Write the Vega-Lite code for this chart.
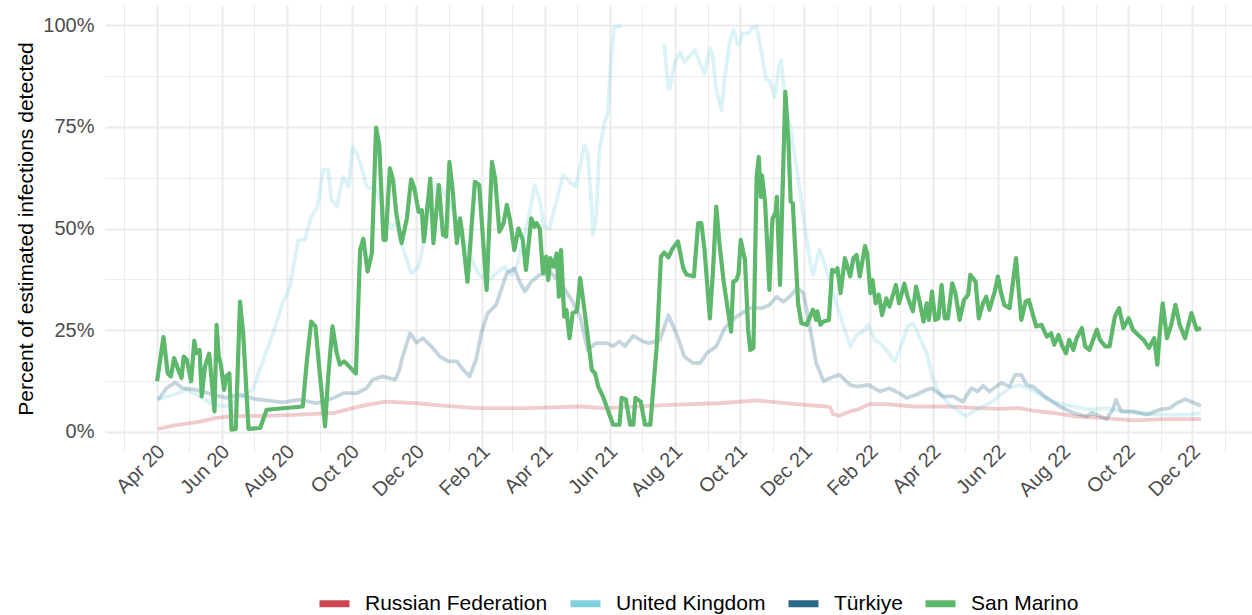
{
"$schema": "https://vega.github.io/schema/vega-lite/v6.json",
"width": 1147, "height": 447,
"autosize": {"type": "none"},
"padding": {"left": 105, "top": 5, "right": 0, "bottom": 163},
"background": "white",
"config": {"view": {"stroke": null}, "font": "Liberation Sans"},
"data": {"values": [
{"country":"Russian Federation","date":"2020-04-02","value":0.7},{"country":"Russian Federation","date":"2020-04-16","value":1.5},{"country":"Russian Federation","date":"2020-04-29","value":2.0},{"country":"Russian Federation","date":"2020-05-11","value":2.5},{"country":"Russian Federation","date":"2020-05-27","value":3.4},{"country":"Russian Federation","date":"2020-06-11","value":3.8},{"country":"Russian Federation","date":"2020-07-13","value":3.9},{"country":"Russian Federation","date":"2020-08-13","value":4.2},{"country":"Russian Federation","date":"2020-09-14","value":4.6},{"country":"Russian Federation","date":"2020-09-29","value":5.6},{"country":"Russian Federation","date":"2020-10-15","value":6.6},{"country":"Russian Federation","date":"2020-11-02","value":7.4},{"country":"Russian Federation","date":"2020-12-01","value":7.0},{"country":"Russian Federation","date":"2020-12-26","value":6.4},{"country":"Russian Federation","date":"2021-01-26","value":5.8},{"country":"Russian Federation","date":"2021-03-15","value":5.8},{"country":"Russian Federation","date":"2021-05-04","value":6.2},{"country":"Russian Federation","date":"2021-05-26","value":5.8},{"country":"Russian Federation","date":"2021-07-27","value":6.6},{"country":"Russian Federation","date":"2021-09-12","value":7.0},{"country":"Russian Federation","date":"2021-10-17","value":7.7},{"country":"Russian Federation","date":"2021-11-17","value":6.9},{"country":"Russian Federation","date":"2021-12-21","value":6.2},{"country":"Russian Federation","date":"2021-12-25","value":6.0},{"country":"Russian Federation","date":"2021-12-28","value":4.3},{"country":"Russian Federation","date":"2022-01-03","value":3.9},{"country":"Russian Federation","date":"2022-01-13","value":5.0},{"country":"Russian Federation","date":"2022-01-22","value":5.6},{"country":"Russian Federation","date":"2022-01-31","value":6.8},{"country":"Russian Federation","date":"2022-02-16","value":6.8},{"country":"Russian Federation","date":"2022-03-13","value":6.2},{"country":"Russian Federation","date":"2022-04-13","value":6.2},{"country":"Russian Federation","date":"2022-05-15","value":5.8},{"country":"Russian Federation","date":"2022-06-03","value":5.6},{"country":"Russian Federation","date":"2022-06-21","value":5.8},{"country":"Russian Federation","date":"2022-07-04","value":5.2},{"country":"Russian Federation","date":"2022-07-23","value":4.6},{"country":"Russian Federation","date":"2022-08-11","value":3.8},{"country":"Russian Federation","date":"2022-09-05","value":3.4},{"country":"Russian Federation","date":"2022-10-06","value":2.8},{"country":"Russian Federation","date":"2022-11-06","value":3.1},{"country":"Russian Federation","date":"2022-12-09","value":3.1},
{"country":"United Kingdom","date":"2020-04-02","value":7.9},{"country":"United Kingdom","date":"2020-04-16","value":9.1},{"country":"United Kingdom","date":"2020-04-29","value":10.3},{"country":"United Kingdom","date":"2020-05-11","value":8.7},{"country":"United Kingdom","date":"2020-05-24","value":6.6},{"country":"United Kingdom","date":"2020-06-05","value":6.2},{"country":"United Kingdom","date":"2020-06-18","value":8.3},{"country":"United Kingdom","date":"2020-06-30","value":10.3},{"country":"United Kingdom","date":"2020-07-10","value":17.7},{"country":"United Kingdom","date":"2020-07-19","value":24.2},{"country":"United Kingdom","date":"2020-07-28","value":31.6},{"country":"United Kingdom","date":"2020-08-04","value":35.7},{"country":"United Kingdom","date":"2020-08-07","value":40.6},{"country":"United Kingdom","date":"2020-08-12","value":47.2},{"country":"United Kingdom","date":"2020-08-18","value":47.2},{"country":"United Kingdom","date":"2020-08-24","value":52.9},{"country":"United Kingdom","date":"2020-08-30","value":55.4},{"country":"United Kingdom","date":"2020-09-04","value":64.4},{"country":"United Kingdom","date":"2020-09-09","value":64.4},{"country":"United Kingdom","date":"2020-09-12","value":57.0},{"country":"United Kingdom","date":"2020-09-17","value":55.4},{"country":"United Kingdom","date":"2020-09-23","value":62.7},{"country":"United Kingdom","date":"2020-09-28","value":60.3},{"country":"United Kingdom","date":"2020-10-02","value":70.1},{"country":"United Kingdom","date":"2020-10-07","value":67.6},{"country":"United Kingdom","date":"2020-10-12","value":63.6},{"country":"United Kingdom","date":"2020-10-15","value":60.3},{"country":"United Kingdom","date":"2020-10-24","value":59.5},{"country":"United Kingdom","date":"2020-10-30","value":55.4},{"country":"United Kingdom","date":"2020-11-07","value":50.4},{"country":"United Kingdom","date":"2020-11-12","value":51.3},{"country":"United Kingdom","date":"2020-11-18","value":45.5},{"country":"United Kingdom","date":"2020-11-26","value":39.0},{"country":"United Kingdom","date":"2020-12-03","value":40.6},{"country":"United Kingdom","date":"2020-12-07","value":45.5},{"country":"United Kingdom","date":"2020-12-14","value":57.0},{"country":"United Kingdom","date":"2020-12-20","value":61.1},{"country":"United Kingdom","date":"2020-12-25","value":59.9},{"country":"United Kingdom","date":"2020-12-31","value":57.0},{"country":"United Kingdom","date":"2021-01-06","value":53.7},{"country":"United Kingdom","date":"2021-01-11","value":48.8},{"country":"United Kingdom","date":"2021-01-17","value":45.5},{"country":"United Kingdom","date":"2021-01-25","value":40.6},{"country":"United Kingdom","date":"2021-01-29","value":38.6},{"country":"United Kingdom","date":"2021-02-06","value":36.9},{"country":"United Kingdom","date":"2021-02-14","value":39.0},{"country":"United Kingdom","date":"2021-02-22","value":40.6},{"country":"United Kingdom","date":"2021-02-28","value":38.6},{"country":"United Kingdom","date":"2021-03-05","value":40.6},{"country":"United Kingdom","date":"2021-03-11","value":46.4},{"country":"United Kingdom","date":"2021-03-18","value":54.5},{"country":"United Kingdom","date":"2021-03-22","value":60.7},{"country":"United Kingdom","date":"2021-03-27","value":57.0},{"country":"United Kingdom","date":"2021-03-31","value":50.4},{"country":"United Kingdom","date":"2021-04-05","value":50.0},{"country":"United Kingdom","date":"2021-04-12","value":57.0},{"country":"United Kingdom","date":"2021-04-18","value":63.1},{"country":"United Kingdom","date":"2021-04-24","value":61.5},{"country":"United Kingdom","date":"2021-04-30","value":60.3},{"country":"United Kingdom","date":"2021-05-08","value":70.5},{"country":"United Kingdom","date":"2021-05-11","value":68.9},{"country":"United Kingdom","date":"2021-05-15","value":54.5},{"country":"United Kingdom","date":"2021-05-16","value":48.4},{"country":"United Kingdom","date":"2021-05-19","value":52.5},{"country":"United Kingdom","date":"2021-05-22","value":69.3},{"country":"United Kingdom","date":"2021-05-27","value":76.2},{"country":"United Kingdom","date":"2021-05-30","value":78.3},{"country":"United Kingdom","date":"2021-06-02","value":91.4},{"country":"United Kingdom","date":"2021-06-05","value":99.6},{"country":"United Kingdom","date":"2021-06-12","value":99.8},{"country":"United Kingdom","date":"2021-06-20","value":null},{"country":"United Kingdom","date":"2021-07-22","value":95.5},{"country":"United Kingdom","date":"2021-07-26","value":84.4},{"country":"United Kingdom","date":"2021-07-27","value":84.4},{"country":"United Kingdom","date":"2021-08-01","value":90.6},{"country":"United Kingdom","date":"2021-08-06","value":93.4},{"country":"United Kingdom","date":"2021-08-10","value":91.0},{"country":"United Kingdom","date":"2021-08-20","value":93.9},{"country":"United Kingdom","date":"2021-08-25","value":90.6},{"country":"United Kingdom","date":"2021-08-29","value":88.1},{"country":"United Kingdom","date":"2021-09-03","value":94.3},{"country":"United Kingdom","date":"2021-09-06","value":92.2},{"country":"United Kingdom","date":"2021-09-09","value":84.0},{"country":"United Kingdom","date":"2021-09-14","value":79.1},{"country":"United Kingdom","date":"2021-09-17","value":87.3},{"country":"United Kingdom","date":"2021-09-22","value":96.3},{"country":"United Kingdom","date":"2021-09-25","value":98.8},{"country":"United Kingdom","date":"2021-09-30","value":95.1},{"country":"United Kingdom","date":"2021-10-04","value":98.0},{"country":"United Kingdom","date":"2021-10-09","value":98.0},{"country":"United Kingdom","date":"2021-10-12","value":99.2},{"country":"United Kingdom","date":"2021-10-17","value":99.8},{"country":"United Kingdom","date":"2021-10-20","value":95.5},{"country":"United Kingdom","date":"2021-10-22","value":92.6},{"country":"United Kingdom","date":"2021-10-26","value":86.5},{"country":"United Kingdom","date":"2021-10-29","value":86.5},{"country":"United Kingdom","date":"2021-11-03","value":82.4},{"country":"United Kingdom","date":"2021-11-07","value":90.0},{"country":"United Kingdom","date":"2021-11-09","value":91.4},{"country":"United Kingdom","date":"2021-11-11","value":86.0},{"country":"United Kingdom","date":"2021-11-13","value":80.8},{"country":"United Kingdom","date":"2021-11-17","value":75.8},{"country":"United Kingdom","date":"2021-11-24","value":64.4},{"country":"United Kingdom","date":"2021-11-30","value":52.9},{"country":"United Kingdom","date":"2021-12-06","value":42.3},{"country":"United Kingdom","date":"2021-12-09","value":38.6},{"country":"United Kingdom","date":"2021-12-15","value":44.7},{"country":"United Kingdom","date":"2021-12-20","value":41.4},{"country":"United Kingdom","date":"2021-12-28","value":34.1},{"country":"United Kingdom","date":"2022-01-05","value":27.5},{"country":"United Kingdom","date":"2022-01-13","value":21.0},{"country":"United Kingdom","date":"2022-01-19","value":23.8},{"country":"United Kingdom","date":"2022-01-25","value":24.6},{"country":"United Kingdom","date":"2022-01-30","value":26.3},{"country":"United Kingdom","date":"2022-02-05","value":22.6},{"country":"United Kingdom","date":"2022-02-10","value":21.8},{"country":"United Kingdom","date":"2022-02-16","value":20.1},{"country":"United Kingdom","date":"2022-02-24","value":17.3},{"country":"United Kingdom","date":"2022-03-04","value":22.6},{"country":"United Kingdom","date":"2022-03-08","value":25.9},{"country":"United Kingdom","date":"2022-03-13","value":26.7},{"country":"United Kingdom","date":"2022-03-19","value":23.4},{"country":"United Kingdom","date":"2022-03-26","value":19.3},{"country":"United Kingdom","date":"2022-03-31","value":13.6},{"country":"United Kingdom","date":"2022-04-07","value":9.5},{"country":"United Kingdom","date":"2022-04-15","value":7.0},{"country":"United Kingdom","date":"2022-04-23","value":5.4},{"country":"United Kingdom","date":"2022-05-02","value":3.8},{"country":"United Kingdom","date":"2022-05-09","value":5.0},{"country":"United Kingdom","date":"2022-05-18","value":6.2},{"country":"United Kingdom","date":"2022-05-27","value":7.4},{"country":"United Kingdom","date":"2022-06-03","value":9.1},{"country":"United Kingdom","date":"2022-06-12","value":10.7},{"country":"United Kingdom","date":"2022-06-21","value":11.5},{"country":"United Kingdom","date":"2022-06-30","value":10.7},{"country":"United Kingdom","date":"2022-07-13","value":8.7},{"country":"United Kingdom","date":"2022-07-26","value":7.0},{"country":"United Kingdom","date":"2022-08-11","value":6.2},{"country":"United Kingdom","date":"2022-08-26","value":5.4},{"country":"United Kingdom","date":"2022-09-11","value":5.8},{"country":"United Kingdom","date":"2022-09-27","value":5.0},{"country":"United Kingdom","date":"2022-10-12","value":4.6},{"country":"United Kingdom","date":"2022-10-28","value":4.2},{"country":"United Kingdom","date":"2022-11-13","value":4.2},{"country":"United Kingdom","date":"2022-11-28","value":4.2},{"country":"United Kingdom","date":"2022-12-09","value":4.6},
{"country":"Türkiye","date":"2020-04-02","value":7.9},{"country":"Türkiye","date":"2020-04-10","value":10.7},{"country":"Türkiye","date":"2020-04-18","value":12.1},{"country":"Türkiye","date":"2020-04-25","value":10.7},{"country":"Türkiye","date":"2020-05-08","value":10.3},{"country":"Türkiye","date":"2020-05-24","value":9.1},{"country":"Türkiye","date":"2020-06-05","value":8.3},{"country":"Türkiye","date":"2020-06-18","value":9.1},{"country":"Türkiye","date":"2020-07-03","value":8.0},{"country":"Türkiye","date":"2020-07-28","value":7.2},{"country":"Türkiye","date":"2020-08-13","value":7.9},{"country":"Türkiye","date":"2020-08-29","value":7.0},{"country":"Türkiye","date":"2020-09-14","value":8.3},{"country":"Türkiye","date":"2020-09-24","value":9.5},{"country":"Türkiye","date":"2020-10-06","value":9.5},{"country":"Türkiye","date":"2020-10-15","value":10.7},{"country":"Türkiye","date":"2020-10-21","value":12.8},{"country":"Türkiye","date":"2020-10-30","value":13.6},{"country":"Türkiye","date":"2020-11-11","value":12.8},{"country":"Türkiye","date":"2020-11-15","value":15.2},{"country":"Türkiye","date":"2020-11-18","value":18.5},{"country":"Türkiye","date":"2020-11-25","value":24.2},{"country":"Türkiye","date":"2020-12-01","value":21.9},{"country":"Türkiye","date":"2020-12-07","value":23.0},{"country":"Türkiye","date":"2020-12-15","value":21.0},{"country":"Türkiye","date":"2020-12-23","value":18.5},{"country":"Türkiye","date":"2020-12-31","value":17.3},{"country":"Türkiye","date":"2021-01-08","value":17.3},{"country":"Türkiye","date":"2021-01-14","value":15.2},{"country":"Türkiye","date":"2021-01-20","value":13.6},{"country":"Türkiye","date":"2021-01-26","value":17.7},{"country":"Türkiye","date":"2021-01-31","value":24.2},{"country":"Türkiye","date":"2021-02-06","value":29.2},{"country":"Türkiye","date":"2021-02-14","value":31.2},{"country":"Türkiye","date":"2021-02-24","value":39.0},{"country":"Türkiye","date":"2021-03-03","value":40.2},{"country":"Türkiye","date":"2021-03-08","value":36.9},{"country":"Türkiye","date":"2021-03-13","value":34.5},{"country":"Türkiye","date":"2021-03-19","value":36.9},{"country":"Türkiye","date":"2021-03-27","value":38.6},{"country":"Türkiye","date":"2021-04-07","value":39.0},{"country":"Türkiye","date":"2021-04-18","value":35.7},{"country":"Türkiye","date":"2021-04-26","value":32.4},{"country":"Türkiye","date":"2021-05-04","value":28.3},{"country":"Türkiye","date":"2021-05-11","value":20.1},{"country":"Türkiye","date":"2021-05-19","value":21.8},{"country":"Türkiye","date":"2021-05-29","value":21.8},{"country":"Türkiye","date":"2021-06-04","value":21.0},{"country":"Türkiye","date":"2021-06-10","value":22.2},{"country":"Türkiye","date":"2021-06-15","value":21.0},{"country":"Türkiye","date":"2021-06-23","value":23.6},{"country":"Türkiye","date":"2021-07-02","value":22.2},{"country":"Türkiye","date":"2021-07-08","value":21.8},{"country":"Türkiye","date":"2021-07-18","value":22.6},{"country":"Türkiye","date":"2021-07-26","value":28.7},{"country":"Türkiye","date":"2021-08-03","value":23.8},{"country":"Türkiye","date":"2021-08-10","value":18.5},{"country":"Türkiye","date":"2021-08-18","value":16.9},{"country":"Türkiye","date":"2021-08-25","value":16.9},{"country":"Türkiye","date":"2021-08-31","value":19.3},{"country":"Türkiye","date":"2021-09-09","value":21.0},{"country":"Türkiye","date":"2021-09-17","value":25.5},{"country":"Türkiye","date":"2021-09-28","value":28.3},{"country":"Türkiye","date":"2021-10-11","value":30.4},{"country":"Türkiye","date":"2021-10-22","value":30.4},{"country":"Türkiye","date":"2021-10-29","value":31.2},{"country":"Türkiye","date":"2021-11-05","value":33.2},{"country":"Türkiye","date":"2021-11-11","value":32.0},{"country":"Türkiye","date":"2021-11-17","value":33.2},{"country":"Türkiye","date":"2021-11-24","value":35.3},{"country":"Türkiye","date":"2021-11-30","value":34.1},{"country":"Türkiye","date":"2021-12-06","value":25.9},{"country":"Türkiye","date":"2021-12-12","value":16.9},{"country":"Türkiye","date":"2021-12-19","value":12.4},{"country":"Türkiye","date":"2021-12-25","value":13.2},{"country":"Türkiye","date":"2022-01-03","value":14.0},{"country":"Türkiye","date":"2022-01-13","value":11.5},{"country":"Türkiye","date":"2022-01-20","value":11.1},{"country":"Türkiye","date":"2022-01-30","value":11.5},{"country":"Türkiye","date":"2022-02-10","value":9.9},{"country":"Türkiye","date":"2022-02-19","value":10.7},{"country":"Türkiye","date":"2022-02-28","value":9.5},{"country":"Türkiye","date":"2022-03-07","value":8.3},{"country":"Türkiye","date":"2022-03-16","value":9.1},{"country":"Türkiye","date":"2022-03-26","value":10.3},{"country":"Türkiye","date":"2022-03-31","value":10.7},{"country":"Türkiye","date":"2022-04-10","value":8.7},{"country":"Türkiye","date":"2022-04-20","value":8.7},{"country":"Türkiye","date":"2022-04-29","value":7.4},{"country":"Türkiye","date":"2022-05-07","value":10.7},{"country":"Türkiye","date":"2022-05-13","value":9.9},{"country":"Türkiye","date":"2022-05-18","value":11.3},{"country":"Türkiye","date":"2022-05-24","value":9.9},{"country":"Türkiye","date":"2022-06-04","value":12.0},{"country":"Türkiye","date":"2022-06-12","value":11.1},{"country":"Türkiye","date":"2022-06-17","value":14.0},{"country":"Türkiye","date":"2022-06-23","value":14.0},{"country":"Türkiye","date":"2022-06-28","value":11.5},{"country":"Türkiye","date":"2022-07-04","value":11.1},{"country":"Türkiye","date":"2022-07-17","value":8.3},{"country":"Türkiye","date":"2022-07-29","value":6.2},{"country":"Türkiye","date":"2022-08-11","value":4.6},{"country":"Türkiye","date":"2022-08-23","value":3.8},{"country":"Türkiye","date":"2022-08-29","value":4.6},{"country":"Türkiye","date":"2022-09-11","value":3.1},{"country":"Türkiye","date":"2022-09-17","value":5.4},{"country":"Türkiye","date":"2022-09-20","value":7.9},{"country":"Türkiye","date":"2022-09-25","value":5.0},{"country":"Türkiye","date":"2022-10-06","value":5.0},{"country":"Türkiye","date":"2022-10-19","value":4.2},{"country":"Türkiye","date":"2022-10-31","value":5.4},{"country":"Türkiye","date":"2022-11-10","value":5.8},{"country":"Türkiye","date":"2022-11-16","value":7.0},{"country":"Türkiye","date":"2022-11-24","value":8.0},{"country":"Türkiye","date":"2022-12-09","value":6.4},
{"country":"San Marino","date":"2020-04-01","value":12.4},{"country":"San Marino","date":"2020-04-07","value":23.3},{"country":"San Marino","date":"2020-04-11","value":14.4},{"country":"San Marino","date":"2020-04-14","value":13.6},{"country":"San Marino","date":"2020-04-17","value":18.1},{"country":"San Marino","date":"2020-04-21","value":15.2},{"country":"San Marino","date":"2020-04-24","value":13.2},{"country":"San Marino","date":"2020-04-26","value":18.5},{"country":"San Marino","date":"2020-04-29","value":17.7},{"country":"San Marino","date":"2020-05-03","value":12.4},{"country":"San Marino","date":"2020-05-06","value":22.4},{"country":"San Marino","date":"2020-05-08","value":19.3},{"country":"San Marino","date":"2020-05-11","value":20.1},{"country":"San Marino","date":"2020-05-13","value":8.7},{"country":"San Marino","date":"2020-05-16","value":16.0},{"country":"San Marino","date":"2020-05-20","value":19.2},{"country":"San Marino","date":"2020-05-25","value":5.0},{"country":"San Marino","date":"2020-05-27","value":26.3},{"country":"San Marino","date":"2020-05-29","value":18.5},{"country":"San Marino","date":"2020-05-31","value":16.5},{"country":"San Marino","date":"2020-06-03","value":10.3},{"country":"San Marino","date":"2020-06-05","value":13.6},{"country":"San Marino","date":"2020-06-08","value":14.3},{"country":"San Marino","date":"2020-06-10","value":0.5},{"country":"San Marino","date":"2020-06-14","value":0.7},{"country":"San Marino","date":"2020-06-18","value":32.0},{"country":"San Marino","date":"2020-06-21","value":24.2},{"country":"San Marino","date":"2020-06-26","value":0.7},{"country":"San Marino","date":"2020-07-07","value":0.9},{"country":"San Marino","date":"2020-07-13","value":5.4},{"country":"San Marino","date":"2020-08-16","value":6.2},{"country":"San Marino","date":"2020-08-20","value":17.7},{"country":"San Marino","date":"2020-08-24","value":27.1},{"country":"San Marino","date":"2020-08-28","value":25.9},{"country":"San Marino","date":"2020-09-01","value":14.4},{"country":"San Marino","date":"2020-09-06","value":1.3},{"country":"San Marino","date":"2020-09-09","value":13.6},{"country":"San Marino","date":"2020-09-13","value":25.9},{"country":"San Marino","date":"2020-09-17","value":19.3},{"country":"San Marino","date":"2020-09-20","value":16.5},{"country":"San Marino","date":"2020-09-24","value":17.3},{"country":"San Marino","date":"2020-09-29","value":16.0},{"country":"San Marino","date":"2020-10-05","value":14.3},{"country":"San Marino","date":"2020-10-09","value":44.7},{"country":"San Marino","date":"2020-10-12","value":47.5},{"country":"San Marino","date":"2020-10-16","value":39.4},{"country":"San Marino","date":"2020-10-20","value":43.9},{"country":"San Marino","date":"2020-10-24","value":74.8},{"country":"San Marino","date":"2020-10-27","value":70.5},{"country":"San Marino","date":"2020-10-31","value":47.2},{"country":"San Marino","date":"2020-11-02","value":47.2},{"country":"San Marino","date":"2020-11-06","value":64.8},{"country":"San Marino","date":"2020-11-09","value":61.9},{"country":"San Marino","date":"2020-11-12","value":53.7},{"country":"San Marino","date":"2020-11-17","value":46.4},{"country":"San Marino","date":"2020-11-22","value":52.5},{"country":"San Marino","date":"2020-11-26","value":62.1},{"country":"San Marino","date":"2020-11-29","value":59.9},{"country":"San Marino","date":"2020-12-03","value":54.1},{"country":"San Marino","date":"2020-12-06","value":54.5},{"country":"San Marino","date":"2020-12-08","value":46.8},{"country":"San Marino","date":"2020-12-14","value":62.3},{"country":"San Marino","date":"2020-12-17","value":46.4},{"country":"San Marino","date":"2020-12-22","value":60.7},{"country":"San Marino","date":"2020-12-26","value":48.4},{"country":"San Marino","date":"2020-12-29","value":48.0},{"country":"San Marino","date":"2021-01-01","value":66.4},{"country":"San Marino","date":"2021-01-04","value":59.5},{"country":"San Marino","date":"2021-01-08","value":46.4},{"country":"San Marino","date":"2021-01-11","value":52.5},{"country":"San Marino","date":"2021-01-13","value":48.8},{"country":"San Marino","date":"2021-01-18","value":36.9},{"country":"San Marino","date":"2021-01-25","value":61.5},{"country":"San Marino","date":"2021-01-29","value":60.7},{"country":"San Marino","date":"2021-02-01","value":49.6},{"country":"San Marino","date":"2021-02-05","value":34.9},{"country":"San Marino","date":"2021-02-10","value":66.4},{"country":"San Marino","date":"2021-02-13","value":62.3},{"country":"San Marino","date":"2021-02-17","value":49.2},{"country":"San Marino","date":"2021-02-21","value":51.3},{"country":"San Marino","date":"2021-02-24","value":55.8},{"country":"San Marino","date":"2021-02-27","value":52.1},{"country":"San Marino","date":"2021-03-03","value":44.7},{"country":"San Marino","date":"2021-03-07","value":50.0},{"country":"San Marino","date":"2021-03-11","value":47.2},{"country":"San Marino","date":"2021-03-14","value":39.8},{"country":"San Marino","date":"2021-03-19","value":52.5},{"country":"San Marino","date":"2021-03-22","value":50.4},{"country":"San Marino","date":"2021-03-24","value":51.3},{"country":"San Marino","date":"2021-03-27","value":50.0},{"country":"San Marino","date":"2021-03-30","value":39.0},{"country":"San Marino","date":"2021-04-02","value":43.1},{"country":"San Marino","date":"2021-04-04","value":37.3},{"country":"San Marino","date":"2021-04-06","value":42.7},{"country":"San Marino","date":"2021-04-09","value":40.6},{"country":"San Marino","date":"2021-04-12","value":43.9},{"country":"San Marino","date":"2021-04-14","value":33.2},{"country":"San Marino","date":"2021-04-16","value":44.7},{"country":"San Marino","date":"2021-04-19","value":28.3},{"country":"San Marino","date":"2021-04-21","value":30.0},{"country":"San Marino","date":"2021-04-24","value":23.0},{"country":"San Marino","date":"2021-04-27","value":29.2},{"country":"San Marino","date":"2021-05-01","value":29.6},{"country":"San Marino","date":"2021-05-04","value":37.8},{"country":"San Marino","date":"2021-05-08","value":30.0},{"country":"San Marino","date":"2021-05-15","value":15.2},{"country":"San Marino","date":"2021-05-18","value":14.4},{"country":"San Marino","date":"2021-05-21","value":11.1},{"country":"San Marino","date":"2021-05-26","value":8.3},{"country":"San Marino","date":"2021-06-04","value":1.7},{"country":"San Marino","date":"2021-06-10","value":1.7},{"country":"San Marino","date":"2021-06-12","value":8.3},{"country":"San Marino","date":"2021-06-16","value":7.9},{"country":"San Marino","date":"2021-06-20","value":1.7},{"country":"San Marino","date":"2021-06-23","value":1.7},{"country":"San Marino","date":"2021-06-25","value":8.3},{"country":"San Marino","date":"2021-06-30","value":7.4},{"country":"San Marino","date":"2021-07-04","value":1.7},{"country":"San Marino","date":"2021-07-09","value":1.7},{"country":"San Marino","date":"2021-07-15","value":21.0},{"country":"San Marino","date":"2021-07-19","value":43.1},{"country":"San Marino","date":"2021-07-22","value":44.1},{"country":"San Marino","date":"2021-07-26","value":42.9},{"country":"San Marino","date":"2021-07-30","value":45.1},{"country":"San Marino","date":"2021-08-04","value":46.8},{"country":"San Marino","date":"2021-08-09","value":40.2},{"country":"San Marino","date":"2021-08-12","value":38.7},{"country":"San Marino","date":"2021-08-19","value":38.2},{"country":"San Marino","date":"2021-08-23","value":51.3},{"country":"San Marino","date":"2021-08-26","value":51.3},{"country":"San Marino","date":"2021-08-29","value":44.7},{"country":"San Marino","date":"2021-09-03","value":27.9},{"country":"San Marino","date":"2021-09-06","value":39.8},{"country":"San Marino","date":"2021-09-09","value":55.4},{"country":"San Marino","date":"2021-09-12","value":46.4},{"country":"San Marino","date":"2021-09-16","value":36.9},{"country":"San Marino","date":"2021-09-19","value":31.6},{"country":"San Marino","date":"2021-09-23","value":24.6},{"country":"San Marino","date":"2021-09-25","value":36.9},{"country":"San Marino","date":"2021-09-28","value":37.3},{"country":"San Marino","date":"2021-09-30","value":39.0},{"country":"San Marino","date":"2021-10-02","value":47.2},{"country":"San Marino","date":"2021-10-06","value":42.3},{"country":"San Marino","date":"2021-10-09","value":25.1},{"country":"San Marino","date":"2021-10-11","value":20.1},{"country":"San Marino","date":"2021-10-14","value":20.6},{"country":"San Marino","date":"2021-10-17","value":62.7},{"country":"San Marino","date":"2021-10-19","value":67.6},{"country":"San Marino","date":"2021-10-21","value":57.8},{"country":"San Marino","date":"2021-10-22","value":63.1},{"country":"San Marino","date":"2021-10-25","value":56.2},{"country":"San Marino","date":"2021-10-29","value":34.9},{"country":"San Marino","date":"2021-10-31","value":48.0},{"country":"San Marino","date":"2021-11-01","value":52.5},{"country":"San Marino","date":"2021-11-04","value":54.1},{"country":"San Marino","date":"2021-11-05","value":57.8},{"country":"San Marino","date":"2021-11-08","value":36.1},{"country":"San Marino","date":"2021-11-10","value":55.5},{"country":"San Marino","date":"2021-11-13","value":83.6},{"country":"San Marino","date":"2021-11-16","value":70.9},{"country":"San Marino","date":"2021-11-18","value":56.6},{"country":"San Marino","date":"2021-11-20","value":56.2},{"country":"San Marino","date":"2021-11-22","value":46.4},{"country":"San Marino","date":"2021-11-25","value":31.6},{"country":"San Marino","date":"2021-11-28","value":26.7},{"country":"San Marino","date":"2021-12-03","value":26.3},{"country":"San Marino","date":"2021-12-09","value":30.0},{"country":"San Marino","date":"2021-12-12","value":27.5},{"country":"San Marino","date":"2021-12-13","value":29.6},{"country":"San Marino","date":"2021-12-16","value":26.3},{"country":"San Marino","date":"2021-12-19","value":27.1},{"country":"San Marino","date":"2021-12-24","value":27.5},{"country":"San Marino","date":"2021-12-27","value":39.8},{"country":"San Marino","date":"2021-12-30","value":39.4},{"country":"San Marino","date":"2022-01-01","value":40.2},{"country":"San Marino","date":"2022-01-04","value":34.1},{"country":"San Marino","date":"2022-01-08","value":42.7},{"country":"San Marino","date":"2022-01-13","value":38.2},{"country":"San Marino","date":"2022-01-16","value":42.7},{"country":"San Marino","date":"2022-01-19","value":43.5},{"country":"San Marino","date":"2022-01-22","value":38.2},{"country":"San Marino","date":"2022-01-27","value":45.7},{"country":"San Marino","date":"2022-01-29","value":43.9},{"country":"San Marino","date":"2022-02-01","value":34.1},{"country":"San Marino","date":"2022-02-03","value":37.3},{"country":"San Marino","date":"2022-02-06","value":31.6},{"country":"San Marino","date":"2022-02-09","value":33.7},{"country":"San Marino","date":"2022-02-12","value":28.7},{"country":"San Marino","date":"2022-02-16","value":32.8},{"country":"San Marino","date":"2022-02-19","value":30.8},{"country":"San Marino","date":"2022-02-25","value":36.1},{"country":"San Marino","date":"2022-02-28","value":31.6},{"country":"San Marino","date":"2022-03-05","value":36.4},{"country":"San Marino","date":"2022-03-08","value":33.2},{"country":"San Marino","date":"2022-03-13","value":29.6},{"country":"San Marino","date":"2022-03-16","value":35.7},{"country":"San Marino","date":"2022-03-19","value":32.4},{"country":"San Marino","date":"2022-03-23","value":27.1},{"country":"San Marino","date":"2022-03-26","value":31.6},{"country":"San Marino","date":"2022-03-28","value":27.5},{"country":"San Marino","date":"2022-03-31","value":34.5},{"country":"San Marino","date":"2022-04-03","value":27.5},{"country":"San Marino","date":"2022-04-06","value":27.9},{"country":"San Marino","date":"2022-04-09","value":36.1},{"country":"San Marino","date":"2022-04-12","value":27.9},{"country":"San Marino","date":"2022-04-15","value":27.9},{"country":"San Marino","date":"2022-04-19","value":36.5},{"country":"San Marino","date":"2022-04-22","value":34.1},{"country":"San Marino","date":"2022-04-26","value":27.5},{"country":"San Marino","date":"2022-04-30","value":32.4},{"country":"San Marino","date":"2022-05-04","value":33.7},{"country":"San Marino","date":"2022-05-06","value":38.6},{"country":"San Marino","date":"2022-05-11","value":36.9},{"country":"San Marino","date":"2022-05-14","value":27.9},{"country":"San Marino","date":"2022-05-18","value":31.6},{"country":"San Marino","date":"2022-05-21","value":33.2},{"country":"San Marino","date":"2022-05-24","value":30.0},{"country":"San Marino","date":"2022-05-29","value":34.5},{"country":"San Marino","date":"2022-06-01","value":38.2},{"country":"San Marino","date":"2022-06-04","value":34.1},{"country":"San Marino","date":"2022-06-07","value":31.2},{"country":"San Marino","date":"2022-06-12","value":30.4},{"country":"San Marino","date":"2022-06-18","value":42.7},{"country":"San Marino","date":"2022-06-20","value":36.5},{"country":"San Marino","date":"2022-06-23","value":27.5},{"country":"San Marino","date":"2022-06-27","value":32.0},{"country":"San Marino","date":"2022-06-30","value":32.4},{"country":"San Marino","date":"2022-07-04","value":28.7},{"country":"San Marino","date":"2022-07-07","value":25.9},{"country":"San Marino","date":"2022-07-12","value":26.3},{"country":"San Marino","date":"2022-07-17","value":23.4},{"country":"San Marino","date":"2022-07-21","value":24.2},{"country":"San Marino","date":"2022-07-24","value":21.4},{"country":"San Marino","date":"2022-07-28","value":23.8},{"country":"San Marino","date":"2022-07-31","value":21.4},{"country":"San Marino","date":"2022-08-04","value":19.3},{"country":"San Marino","date":"2022-08-07","value":22.6},{"country":"San Marino","date":"2022-08-11","value":20.1},{"country":"San Marino","date":"2022-08-14","value":23.0},{"country":"San Marino","date":"2022-08-19","value":25.5},{"country":"San Marino","date":"2022-08-22","value":21.0},{"country":"San Marino","date":"2022-08-26","value":20.1},{"country":"San Marino","date":"2022-09-02","value":25.1},{"country":"San Marino","date":"2022-09-05","value":22.6},{"country":"San Marino","date":"2022-09-10","value":21.0},{"country":"San Marino","date":"2022-09-14","value":21.0},{"country":"San Marino","date":"2022-09-19","value":28.3},{"country":"San Marino","date":"2022-09-23","value":30.4},{"country":"San Marino","date":"2022-09-27","value":25.5},{"country":"San Marino","date":"2022-10-02","value":27.9},{"country":"San Marino","date":"2022-10-06","value":25.1},{"country":"San Marino","date":"2022-10-11","value":23.8},{"country":"San Marino","date":"2022-10-16","value":22.6},{"country":"San Marino","date":"2022-10-21","value":20.6},{"country":"San Marino","date":"2022-10-26","value":23.0},{"country":"San Marino","date":"2022-10-29","value":16.5},{"country":"San Marino","date":"2022-10-31","value":23.8},{"country":"San Marino","date":"2022-11-03","value":31.6},{"country":"San Marino","date":"2022-11-07","value":23.0},{"country":"San Marino","date":"2022-11-11","value":26.3},{"country":"San Marino","date":"2022-11-15","value":31.2},{"country":"San Marino","date":"2022-11-19","value":26.3},{"country":"San Marino","date":"2022-11-24","value":23.0},{"country":"San Marino","date":"2022-11-30","value":29.2},{"country":"San Marino","date":"2022-12-05","value":25.1},{"country":"San Marino","date":"2022-12-09","value":25.5}
]},
"encoding": {
  "x": {"field": "date", "type": "temporal",
    "scale": {"type": "utc", "domain": [{"year": 2020, "month": 2, "date": 12, "utc": true}, {"year": 2023, "month": 1, "date": 26, "utc": true}]},
    "axis": {"title": null, "domain": false, "ticks": false, "labelAngle": -45, "labelAlign": "right", "labelBaseline": "top", "labelPadding": -11, "labelOffset": -3,
      "labelFontSize": 20, "labelColor": "#4D4D4D", "labelOverlap": false, "labelFlush": false, "labelBound": false,
      "values": [
        {"year":2020,"month":3,"date":1,"utc":true},{"year":2020,"month":4,"date":1,"utc":true},{"year":2020,"month":5,"date":1,"utc":true},{"year":2020,"month":6,"date":1,"utc":true},{"year":2020,"month":7,"date":1,"utc":true},{"year":2020,"month":8,"date":1,"utc":true},{"year":2020,"month":9,"date":1,"utc":true},{"year":2020,"month":10,"date":1,"utc":true},{"year":2020,"month":11,"date":1,"utc":true},{"year":2020,"month":12,"date":1,"utc":true},
        {"year":2021,"month":1,"date":1,"utc":true},{"year":2021,"month":2,"date":1,"utc":true},{"year":2021,"month":3,"date":1,"utc":true},{"year":2021,"month":4,"date":1,"utc":true},{"year":2021,"month":5,"date":1,"utc":true},{"year":2021,"month":6,"date":1,"utc":true},{"year":2021,"month":7,"date":1,"utc":true},{"year":2021,"month":8,"date":1,"utc":true},{"year":2021,"month":9,"date":1,"utc":true},{"year":2021,"month":10,"date":1,"utc":true},{"year":2021,"month":11,"date":1,"utc":true},{"year":2021,"month":12,"date":1,"utc":true},
        {"year":2022,"month":1,"date":1,"utc":true},{"year":2022,"month":2,"date":1,"utc":true},{"year":2022,"month":3,"date":1,"utc":true},{"year":2022,"month":4,"date":1,"utc":true},{"year":2022,"month":5,"date":1,"utc":true},{"year":2022,"month":6,"date":1,"utc":true},{"year":2022,"month":7,"date":1,"utc":true},{"year":2022,"month":8,"date":1,"utc":true},{"year":2022,"month":9,"date":1,"utc":true},{"year":2022,"month":10,"date":1,"utc":true},{"year":2022,"month":11,"date":1,"utc":true},{"year":2022,"month":12,"date":1,"utc":true},
        {"year":2023,"month":1,"date":1,"utc":true}
      ],
      "labelExpr": "utcmonth(datum.value) % 2 == 1 ? utcFormat(datum.value, '%b %y') : ''",
      "grid": true, "gridColor": "#EBEBEB",
      "gridWidth": {"condition": {"test": "utcmonth(datum.value) % 2 == 1", "value": 2}, "value": 1}
    }},
  "y": {"field": "value", "type": "quantitative",
    "scale": {"domain": [-5, 105], "nice": false, "zero": false},
    "axis": {"title": "Percent of estimated infections detected", "titleFontSize": 21, "titleFontWeight": "normal", "titleColor": "#000000", "titlePadding": 6,
      "domain": false, "ticks": false, "labelPadding": 11, "labelFontSize": 20, "labelColor": "#4D4D4D",
      "values": [0, 12.5, 25, 37.5, 50, 62.5, 75, 87.5, 100],
      "labelExpr": "datum.value % 25 == 0 ? datum.value + '%' : ''",
      "grid": true, "gridColor": "#EBEBEB",
      "gridWidth": {"condition": {"test": "datum.value % 25 == 0", "value": 2}, "value": 1}
    }},
  "color": {"field": "country", "type": "nominal",
    "scale": {"domain": ["Russian Federation", "United Kingdom", "Türkiye", "San Marino"], "range": ["#CB4753", "#7FD1DE", "#2B6787", "#5DB86C"]},
    "legend": {"title": null, "orient": "none", "legendX": 211, "legendY": 580, "direction": "horizontal", "columns": 4,
      "symbolType": "stroke", "symbolStrokeWidth": 7, "symbolSize": 900, "symbolOpacity": 1,
      "labelFontSize": 21, "labelColor": "#000000", "labelOffset": 12, "columnPadding": 8, "labelLimit": 400}}
},
"layer": [
  {"transform": [{"filter": "datum.country !== 'San Marino'"}],
   "mark": {"type": "line", "strokeWidth": 3.8, "opacity": 0.28, "strokeJoin": "round", "invalid": "break-paths-show-domains"}},
  {"transform": [{"filter": "datum.country === 'San Marino'"}],
   "mark": {"type": "line", "strokeWidth": 4.2, "strokeJoin": "round"}}
]
}
